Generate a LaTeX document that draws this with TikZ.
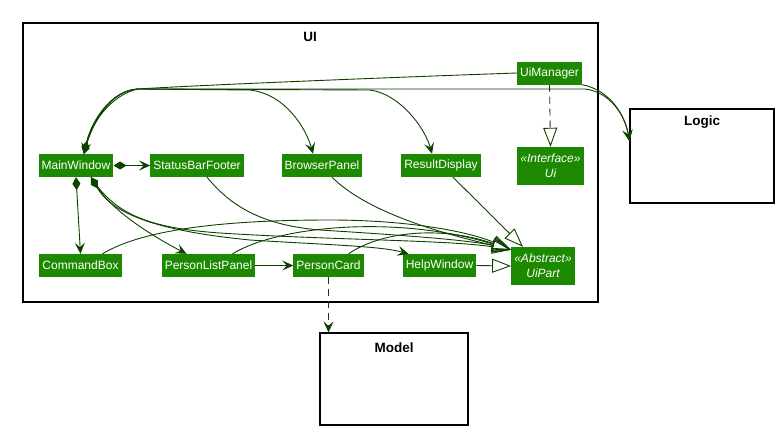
\documentclass[tikz,border=0pt]{standalone}
\usepackage{fontspec}
\setmainfont{Liberation Sans}
\usetikzlibrary{arrows.meta,positioning}
\definecolor{uigreen}{HTML}{1D8900}
\definecolor{uiline}{HTML}{0E4100}

\begin{document}
\begin{tikzpicture}[x=1pt,y=-1pt,
  cls/.style={fill=uigreen,text=white,font=\fontsize{12}{14}\selectfont,inner xsep=3pt,inner ysep=0pt,minimum height=23pt},
  abs/.style={cls,font=\fontsize{12}{15}\selectfont\itshape,align=center,minimum height=38pt},
  pkg/.style={draw=black,line width=1.2pt},
  ttl/.style={font=\fontsize{13.5}{15}\selectfont\bfseries},
  link/.style={draw=uiline,line width=0.9pt},
  nav/.style={link,-{Stealth[length=11pt,width=10pt,inset=4.5pt]}},
  comp/.style={link,{Diamond[length=13pt,width=8pt]}-{Stealth[length=11pt,width=10pt,inset=4.5pt]}},
  ext/.style={link,-{Triangle[open,length=19pt,width=14pt]}},
  dashline/.style={dash pattern=on 7pt off 5pt}]
\useasboundingbox (0,0) rectangle (783,437);
% Packages
\node[pkg,minimum width=575pt,minimum height=279pt] (uipkg) at (310.5,162.5) {};
\node[ttl] (uititle) at (310,37) {UI};
\node[pkg,minimum width=144pt,minimum height=94pt] (logic) at (702,156) {};
\node[ttl] (logictitle) at (702,122) {Logic};
\node[pkg,minimum width=148pt,minimum height=92pt] (model) at (394,379) {};
\node[ttl] (modeltitle) at (394,348) {Model};
% Classes
\node[cls] (uimanager) at (549.5,73) {UiManager};
\node[cls] (mainwindow) at (76,165.5) {MainWindow};
\node[cls] (statusbar) at (197,165.5) {StatusBarFooter};
\node[cls] (browser) at (322,165.5) {BrowserPanel};
\node[cls] (result) at (441,165.5) {ResultDisplay};
\node[abs] (ui) at (550.5,166) {«Interface»\\Ui};
\node[cls] (commandbox) at (80.5,265.5) {CommandBox};
\node[cls] (personlist) at (208.5,265.5) {PersonListPanel};
\node[cls] (personcard) at (328.5,265.5) {PersonCard};
\node[cls] (helpwindow) at (439.5,265.5) {HelpWindow};
\node[abs] (uipart) at (543,266) {«Abstract»\\UiPart};
\coordinate (uptip) at ([yshift=-3pt]uipart.north west);
% UiManager
\draw[nav] (uimanager.west) .. controls (400,77) and (200,85) .. (138,89) .. controls (110,95) and (90,125) .. ([xshift=8pt]mainwindow.north);
\draw[nav] (uimanager.south east) .. controls (610,90) and (625,115) .. ([yshift=15pt]logic.west);
\draw[link,dashline,-{Triangle[open,length=19pt,width=14pt]}] (uimanager.south) -- (ui.north);
% MainWindow
\draw[nav] ([xshift=8pt]mainwindow.north) .. controls (92,120) and (112,90) .. (138,89) -- (585,89) .. controls (610,92) and (625,115) .. ([yshift=15pt]logic.west);
\draw[comp] ([xshift=8pt]mainwindow.north) .. controls (92,120) and (112,90) .. (138,89) -- (250,90) .. controls (285,94) and (306,128) .. ([xshift=-9pt]browser.north);
\draw[comp] ([xshift=8pt]mainwindow.north) .. controls (92,120) and (112,90) .. (138,89) -- (370,90) .. controls (400,94) and (425,128) .. ([xshift=-9pt]result.north);
\draw[comp] (mainwindow.east) -- (statusbar.west);
\draw[comp] (mainwindow.south) -- (commandbox.north);
\draw[comp] ([xshift=15pt]mainwindow.south) .. controls (112,210) and (150,235) .. ([xshift=-22pt]personlist.north);
\draw[comp] ([xshift=15pt]mainwindow.south) .. controls (115,218) and (170,232) .. (250,240) .. controls (330,245) and (380,246) .. ([xshift=-31pt]helpwindow.north);
\draw[nav] (personlist.east) -- (personcard.west);
\draw[nav,dashline] (personcard.south) -- (personcard.south |- model.north);
% UiPart
\draw[ext] ([xshift=15pt]mainwindow.south) .. controls (115,215) and (150,228) .. (220,233) .. controls (330,240) and (450,240) .. (uptip);
\draw[ext] ([xshift=10pt]statusbar.south) .. controls (230,205) and (260,225) .. (320,230) .. controls (400,235) and (470,240) .. (uptip);
\draw[ext] ([xshift=10pt]browser.south) .. controls (370,215) and (450,235) .. (uptip);
\draw[ext] ([xshift=12pt]result.south) -- ([xshift=-20pt]uipart.north);
\draw[ext] ([xshift=22pt]commandbox.north) .. controls (150,225) and (250,220) .. (330,220) .. controls (410,220) and (470,232) .. (uptip);
\draw[ext] ([xshift=24pt]personlist.north) .. controls (280,225) and (400,215) .. (uptip);
\draw[ext] ([xshift=20pt]personcard.north) .. controls (380,232) and (440,225) .. (uptip);
\draw[ext] (helpwindow.east) -- (uipart.west);
\end{tikzpicture}
\end{document}
